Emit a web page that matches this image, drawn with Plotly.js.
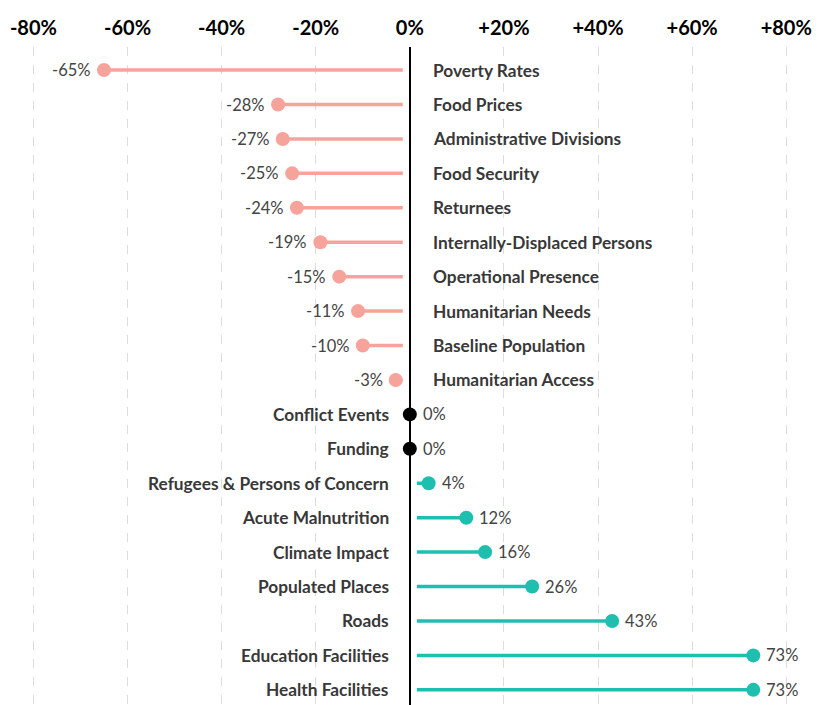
<!DOCTYPE html>
<html><head><meta charset="utf-8">
<script src="https://cdn.plot.ly/plotly-3.0.1.min.js"></script>
<style>html,body{margin:0;padding:0;background:#fff}#chart{width:822px;height:705px}</style>
</head><body><div id="chart"></div>
<script>
const categories = ['Poverty Rates','Food Prices','Administrative Divisions','Food Security','Returnees','Internally-Displaced Persons','Operational Presence','Humanitarian Needs','Baseline Population','Humanitarian Access','Conflict Events','Funding','Refugees & Persons of Concern','Acute Malnutrition','Climate Impact','Populated Places','Roads','Education Facilities','Health Facilities'];
const values = [-65,-28,-27,-25,-24,-19,-15,-11,-10,-3,0,0,4,12,16,26,43,73,73];
const tickVals = [-80,-60,-40,-20,0,20,40,60,80];
const tickText = ['-80%','-60%','-40%','-20%','0%','+20%','+40%','+60%','+80%'];

const NEG = '#F6A49B', POS = '#1FBFB0', ZERO = '#000000';
const GAP = 1.5;
const FONT = 'Lato, "Source Sans Pro", "Open Sans", sans-serif';

function colorOf(v){ return v < 0 ? NEG : (v > 0 ? POS : ZERO); }

const negX = [], negY = [], posX = [], posY = [];
values.forEach((v, i) => {
  if (v < 0) { negX.push(v, -GAP, null); negY.push(i, i, null); }
  else if (v > 0) { posX.push(GAP, v, null); posY.push(i, i, null); }
});

const traces = [
  {type:'scatter', mode:'lines', x:negX, y:negY, line:{color:NEG, width:3.5}, hoverinfo:'skip', showlegend:false},
  {type:'scatter', mode:'lines', x:posX, y:posY, line:{color:POS, width:3.5}, hoverinfo:'skip', showlegend:false},
  {type:'scatter', mode:'markers', x:values, y:values.map((v,i)=>i),
   marker:{size:14, color:values.map(colorOf)}, showlegend:false}
];

const annotations = [];
values.forEach((v, i) => {
  annotations.push({
    x: 0, y: i, xref:'x', yref:'y', showarrow:false,
    text: categories[i],
    xanchor: v < 0 ? 'left' : 'right',
    xshift: v < 0 ? 21 : -19,
    font:{family:FONT, size:17.3, color:'#383838', weight:'bold'}
  });
  annotations.push({
    x: v, y: i, xref:'x', yref:'y', showarrow:false,
    text: v + '%',
    xanchor: v < 0 ? 'right' : 'left',
    xshift: v < 0 ? -11 : 11,
    font:{family:FONT, size:16.5, color:'#444444'}
  });
});

const layout = {
  width:822, height:705,
  margin:{l:0, r:0, t:47, b:0},
  paper_bgcolor:'#fff', plot_bgcolor:'#fff',
  showlegend:false,
  xaxis:{
    side:'top', range:[-87.1, 87.6],
    tickvals:tickVals, ticktext:tickText,
    tickfont:{family:FONT, size:20, color:'#000', weight:'bold'},
    ticklabelstandoff:7,
    showgrid:true, gridcolor:'#dddddd', griddash:'dash', gridwidth:1,
    zeroline:true, zerolinecolor:'#000', zerolinewidth:1.5,
    showline:false, ticks:'', fixedrange:true
  },
  yaxis:{
    range:[18.44, -0.67], showticklabels:false, showgrid:false,
    zeroline:false, showline:false, ticks:'', fixedrange:true
  },
  annotations: annotations
};

Plotly.newPlot('chart', traces, layout, {displayModeBar:false, staticPlot:true});
</script></body></html>
